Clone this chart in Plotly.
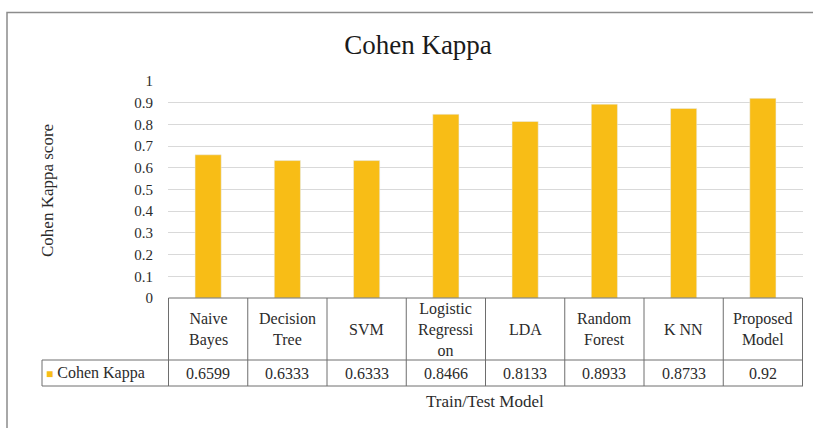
import plotly.graph_objects as go

# Data
models = ["Naive Bayes", "Decision Tree", "SVM", "Logistic Regression",
          "LDA", "Random Forest", "K NN", "Proposed Model"]
header_labels = ["Naive<br>Bayes", "Decision<br>Tree", "SVM", "Logistic<br>Regressi<br>on",
                 "LDA", "Random<br>Forest", "K NN", "Proposed<br>Model"]
kappa = [0.6599, 0.6333, 0.6333, 0.8466, 0.8133, 0.8933, 0.8733, 0.92]
y_ticks = [0, 0.1, 0.2, 0.3, 0.4, 0.5, 0.6, 0.7, 0.8, 0.9, 1]
y_tick_text = ["0", "0.1", "0.2", "0.3", "0.4", "0.5", "0.6", "0.7", "0.8", "0.9", "1"]

BAR = "#F8BD16"
LINE = "#6E6E6E"
TEXT = "#2B2B2B"
FONT = "Liberation Serif"

W, H = 813, 428
L, R, T, B = 168, 10, 81, 130
plot_h = H - T - B


def py(pix):
    # pixel row -> paper y
    return (H - B - pix) / plot_h


def px(pix):
    # pixel column -> paper x
    return (pix - L) / (W - L - R)


fig = go.Figure(go.Bar(x=models, y=kappa, marker_color=BAR, name="Cohen Kappa",
                       hoverinfo="x+y"))

shapes = []
annotations = []

# table: vertical cell borders at category edges
n = len(models)
for i in range(n + 1):
    shapes.append(dict(type="line", xref="x", yref="paper", x0=i - 0.5, x1=i - 0.5,
                       y0=py(298), y1=py(386), line=dict(color=LINE, width=1)))
# horizontal borders
shapes.append(dict(type="line", xref="x", yref="paper", x0=-0.5, x1=n - 0.5,
                   y0=py(298), y1=py(298), line=dict(color=LINE, width=1)))
for yy in (360, 386):
    shapes.append(dict(type="line", xref="paper", yref="paper", x0=px(42), x1=1,
                       y0=py(yy), y1=py(yy), line=dict(color=LINE, width=1)))
shapes.append(dict(type="line", xref="paper", yref="paper", x0=px(42), x1=px(42),
                   y0=py(360), y1=py(386), line=dict(color=LINE, width=1)))

# outer chart frame
shapes.append(dict(type="rect", xref="paper", yref="paper", x0=px(7), x1=px(830),
                   y0=py(445), y1=py(12.5), line=dict(color="#8C8C8C", width=1.5),
                   fillcolor="rgba(0,0,0,0)", layer="below"))

for m, lab, v in zip(models, header_labels, kappa):
    annotations.append(dict(x=m, xref="x", y=py(329), yref="paper", text=lab,
                            showarrow=False, yanchor="middle",
                            font=dict(family=FONT, size=16, color=TEXT)))
    annotations.append(dict(x=m, xref="x", y=py(373), yref="paper", text=str(v),
                            showarrow=False, yanchor="middle",
                            font=dict(family=FONT, size=16, color=TEXT)))

# legend key in the data row
annotations.append(dict(x=px(44), xref="paper", y=py(373), yref="paper", xanchor="left",
                        text=f"<span style='color:{BAR};font-size:12px'>■</span> Cohen Kappa",
                        showarrow=False, yanchor="middle",
                        font=dict(family=FONT, size=16, color=TEXT)))
# axis titles
annotations.append(dict(x=px(47), xref="paper", y=py(190), yref="paper",
                        xanchor="center", yanchor="middle",
                        text="Cohen Kappa score", textangle=-90, showarrow=False,
                        font=dict(family=FONT, size=17, color=TEXT)))
annotations.append(dict(x=px(485), xref="paper", y=py(401), yref="paper",
                        xanchor="center", yanchor="middle",
                        text="Train/Test Model", showarrow=False,
                        font=dict(family=FONT, size=17, color=TEXT)))

fig.update_layout(
    width=W, height=H,
    margin=dict(l=L, r=R, t=T, b=B),
    paper_bgcolor="white", plot_bgcolor="white",
    title=dict(text="Cohen Kappa", x=418 / W, xref="container", xanchor="center",
               y=1 - 45 / H, yref="container", yanchor="middle",
               font=dict(family=FONT, size=27, color="#1A1A1A")),
    font=dict(family=FONT, size=15, color=TEXT),
    bargap=0.67,
    showlegend=False,
    shapes=shapes,
    annotations=annotations,
)
fig.update_xaxes(showticklabels=False, showgrid=False, showline=False, zeroline=False)
fig.update_yaxes(range=[0, 1], tickvals=y_ticks, ticktext=y_tick_text,
                 showgrid=True, gridcolor="#D9D9D9", gridwidth=1,
                 zeroline=False, showline=False, ticklabelstandoff=14,
                 tickfont=dict(family=FONT, size=15, color=TEXT))

# drop the browser's default body margin so the figure sits at the page corner
fig.write_html("out.html", config={"displayModeBar": False},
               post_script="document.body.style.margin='0';")
